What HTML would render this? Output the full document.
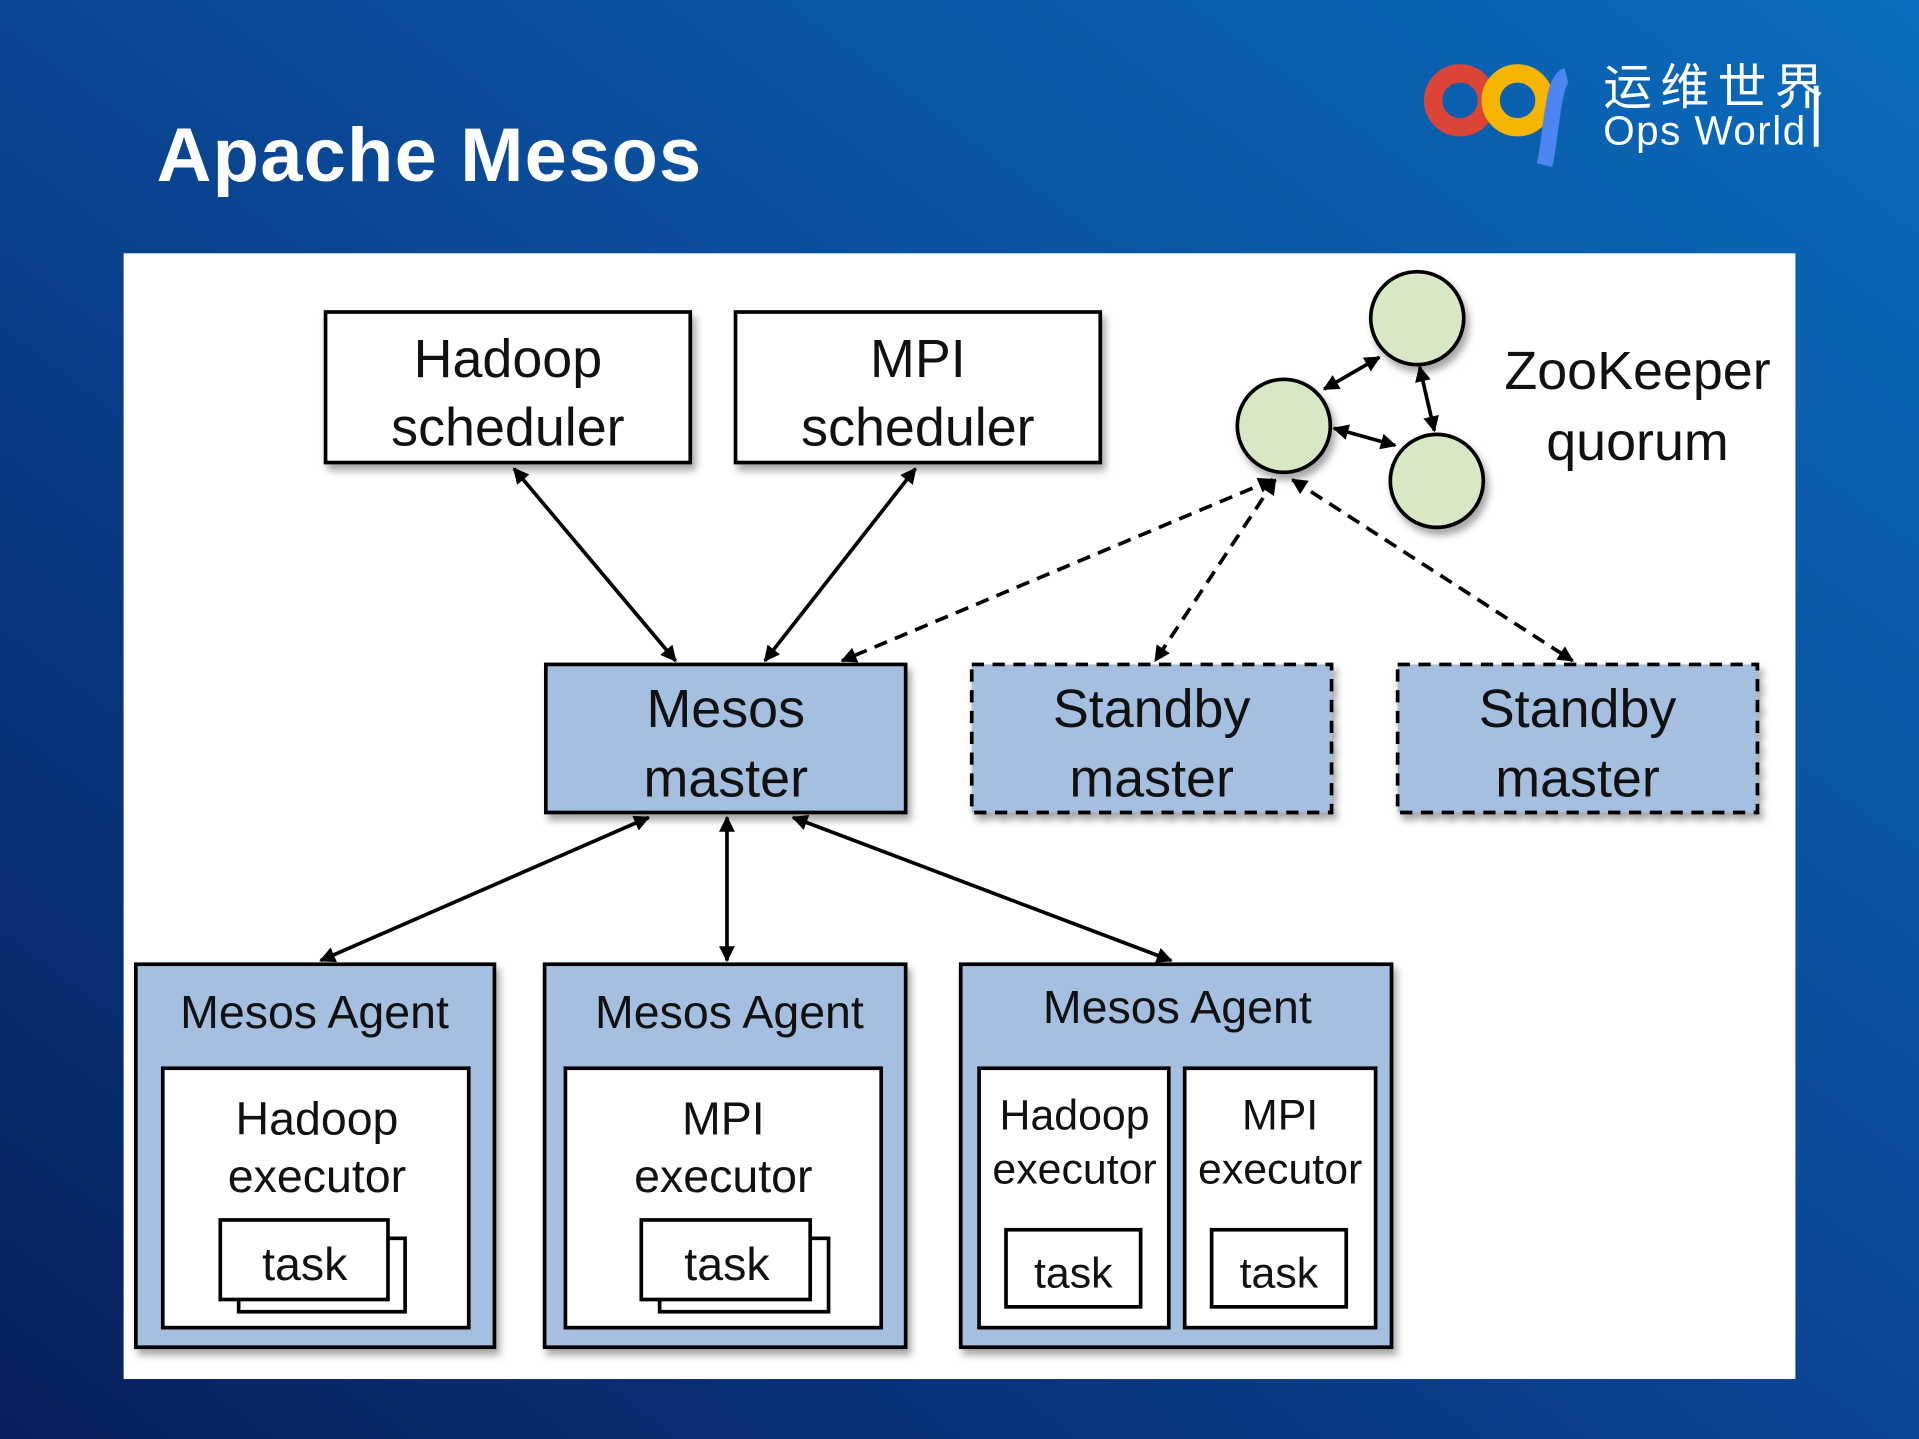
<!DOCTYPE html>
<html><head><meta charset="utf-8"><style>
html,body{margin:0;padding:0;width:1919px;height:1439px;overflow:hidden}
svg{display:block}
text{font-family:"Liberation Sans","Noto Sans CJK SC",sans-serif}
</style></head><body>
<svg width="1919" height="1439" viewBox="0 0 1568 1176" preserveAspectRatio="none" xmlns="http://www.w3.org/2000/svg">
<defs>
<linearGradient id="bg" x1="0" y1="1" x2="1" y2="0">
<stop offset="0" stop-color="#071f5c"/>
<stop offset="0.5" stop-color="#0a4592"/>
<stop offset="1" stop-color="#0a6cbc"/>
</linearGradient>
<marker id="a" viewBox="0 0 10 10" refX="9" refY="5" markerWidth="15" markerHeight="13" markerUnits="userSpaceOnUse" orient="auto-start-reverse">
<path d="M0,0 L10,5 L0,10 z" fill="#000"/></marker>
<filter id="sh" x="-10%" y="-10%" width="130%" height="140%"><feDropShadow dx="3" dy="5" stdDeviation="3" flood-color="#000" flood-opacity="0.35"/></filter>
</defs>
<rect width="1568" height="1176" fill="url(#bg)"/>
<text x="128" y="148" font-size="62" font-weight="bold" fill="#fff" textLength="445">Apache Mesos</text>
<!-- logo -->
<circle cx="1193" cy="82" r="22" fill="none" stroke="#db4437" stroke-width="15"/>
<circle cx="1240" cy="82" r="22" fill="none" stroke="#f4b400" stroke-width="15"/>
<path d="M1280,62 C1268,65 1268,110 1262,135" fill="none" stroke="#4a85f0" stroke-width="13"/>
<text x="1310" y="85" font-size="40" fill="#fff" font-family="Noto Sans CJK SC,sans-serif" textLength="180">运维世界</text>
<text x="1310" y="118" font-size="33" fill="#fff" textLength="165">Ops World</text>
<rect x="1482" y="70" width="4" height="50" fill="#fff"/>
<!-- panel -->
<rect x="101" y="207" width="1366" height="920" fill="#fff"/>
<g stroke="#000" stroke-width="3">
<rect x="266" y="255" width="298" height="123" fill="#fff" filter="url(#sh)"/>
<rect x="601" y="255" width="298" height="123" fill="#fff" filter="url(#sh)"/>
<rect x="446" y="543" width="294" height="121" fill="#a4bfe0" filter="url(#sh)"/>
<rect x="794" y="543" width="294" height="121" fill="#a4bfe0" stroke-dasharray="10,7" filter="url(#sh)"/>
<rect x="1142" y="543" width="294" height="121" fill="#a4bfe0" stroke-dasharray="10,7" filter="url(#sh)"/>
<circle cx="1158" cy="260" r="38" fill="#d9e8c4" filter="url(#sh)"/>
<circle cx="1049" cy="348" r="38" fill="#d9e8c4" filter="url(#sh)"/>
<circle cx="1174" cy="393" r="38" fill="#d9e8c4" filter="url(#sh)"/>
<rect x="111" y="788" width="293" height="313" fill="#a4bfe0" filter="url(#sh)"/>
<rect x="445" y="788" width="295" height="313" fill="#a4bfe0" filter="url(#sh)"/>
<rect x="785" y="788" width="352" height="313" fill="#a4bfe0" filter="url(#sh)"/>
<rect x="133" y="873" width="250" height="212" fill="#fff"/>
<rect x="462" y="873" width="258" height="212" fill="#fff"/>
<rect x="800" y="873" width="155" height="212" fill="#fff"/>
<rect x="968" y="873" width="156" height="212" fill="#fff"/>
<rect x="195" y="1012" width="136" height="60" fill="#fff"/>
<rect x="180" y="997" width="137" height="65" fill="#fff"/>
<rect x="539" y="1012" width="138" height="60" fill="#fff"/>
<rect x="524" y="997" width="138" height="65" fill="#fff"/>
<rect x="822" y="1005" width="110" height="63" fill="#fff"/>
<rect x="990" y="1005" width="110" height="63" fill="#fff"/>
</g>
<g stroke="#000" stroke-width="3" marker-start="url(#a)" marker-end="url(#a)" fill="none">
<line x1="420" y1="383" x2="552" y2="540"/>
<line x1="748" y1="383" x2="625" y2="540"/>
<line x1="530" y1="668" x2="262" y2="785"/>
<line x1="594" y1="668" x2="594" y2="785"/>
<line x1="648" y1="668" x2="957" y2="785"/>
<line x1="1127" y1="292" x2="1082" y2="318"/>
<line x1="1160" y1="300" x2="1172" y2="352"/>
<line x1="1090" y1="350" x2="1140" y2="364"/>
</g>
<g stroke="#000" stroke-width="3" stroke-dasharray="11,7" marker-start="url(#a)" marker-end="url(#a)" fill="none">
<line x1="1040" y1="392" x2="688" y2="540"/>
<line x1="1042" y1="392" x2="944" y2="540"/>
<line x1="1056" y1="392" x2="1285" y2="540"/>
</g>
<g fill="#111" text-anchor="middle" font-size="44">
<text x="415" y="308">Hadoop</text><text x="415" y="364">scheduler</text>
<text x="750" y="308">MPI</text><text x="750" y="364">scheduler</text>
<text x="593" y="594">Mesos</text><text x="593" y="651">master</text>
<text x="941" y="594">Standby</text><text x="941" y="651">master</text>
<text x="1289" y="594">Standby</text><text x="1289" y="651">master</text>
<text x="1338" y="318">ZooKeeper</text><text x="1338" y="376">quorum</text>
</g>
<g fill="#111" text-anchor="middle" font-size="38">
<text x="257" y="840">Mesos Agent</text>
<text x="596" y="840">Mesos Agent</text>
<text x="962" y="836">Mesos Agent</text>
<text x="259" y="927">Hadoop</text><text x="259" y="974">executor</text>
<text x="591" y="927">MPI</text><text x="591" y="974">executor</text>
<text x="249" y="1046">task</text>
<text x="594" y="1046">task</text>
</g>
<g fill="#111" text-anchor="middle" font-size="35">
<text x="878" y="923">Hadoop</text><text x="878" y="967">executor</text>
<text x="1046" y="923">MPI</text><text x="1046" y="967">executor</text>
<text x="877" y="1052">task</text>
<text x="1045" y="1052">task</text>
</g>
</svg>
</body></html>
